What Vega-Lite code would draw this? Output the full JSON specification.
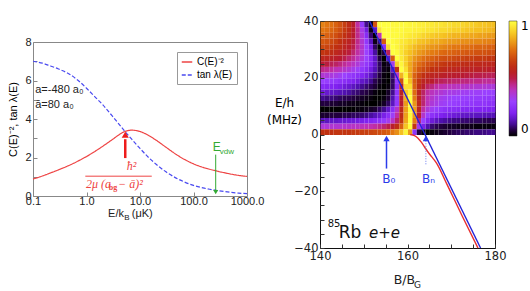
{
"$schema":"https://vega.github.io/schema/vega-lite/v6.json",
"padding":{"left":7,"top":14,"right":0,"bottom":0},
"background":"white",
"spacing":0,
"config":{"view":{"stroke":null},"axis":{"grid":false,"domain":false,"labelFont":"Liberation Sans","titleFont":"Liberation Sans","titleFontWeight":"normal"},"text":{"font":"Liberation Sans"}},
"resolve":{"scale":{"color":"independent","strokeDash":"independent","x":"independent","y":"independent"},"legend":{"color":"independent","strokeDash":"independent"}},
"hconcat":[
{"vconcat":[
{"width":214,"height":1,"data":{"values":[{}]},"mark":{"type":"text"},"encoding":{}},
{
"width":214,"height":154,
"view":{"stroke":"#888888","strokeWidth":1},
"encoding":{
"x":{"field":"E","type":"quantitative","scale":{"type":"log","domain":[0.1,1000]},"axis":{"values":[0.1,1,10,100,1000],"format":".1f","title":null,"tickSize":-4,"labelPadding":3,"tickColor":"#888888","labelFontSize":11,"labelColor":"#222222","labelFlush":false}},
"y":{"field":"v","type":"quantitative","scale":{"domain":[0,8]},"axis":{"values":[0,1,2,3,4,5,6,7,8],"labelExpr":"datum.value % 2 == 0 ? datum.label : ''","title":"C(E)⁻², tan λ(E)","titleFontSize":11,"titlePadding":6,"tickSize":-4,"labelPadding":6,"tickColor":"#888888","labelFontSize":11,"labelColor":"#222222"}}
},
"layer":[
{"data":{"values":[
{"E":0.1,"v":0.88,"s":"C(E)⁻²"},{"E":0.15,"v":1.04,"s":"C(E)⁻²"},{"E":0.2,"v":1.17,"s":"C(E)⁻²"},{"E":0.3,"v":1.36,"s":"C(E)⁻²"},{"E":0.5,"v":1.62,"s":"C(E)⁻²"},{"E":0.7,"v":1.82,"s":"C(E)⁻²"},{"E":1,"v":2.05,"s":"C(E)⁻²"},{"E":1.5,"v":2.35,"s":"C(E)⁻²"},{"E":2,"v":2.58,"s":"C(E)⁻²"},{"E":3,"v":2.92,"s":"C(E)⁻²"},{"E":4,"v":3.17,"s":"C(E)⁻²"},{"E":5,"v":3.33,"s":"C(E)⁻²"},{"E":6,"v":3.4,"s":"C(E)⁻²"},{"E":7,"v":3.42,"s":"C(E)⁻²"},{"E":8,"v":3.41,"s":"C(E)⁻²"},{"E":10,"v":3.35,"s":"C(E)⁻²"},{"E":15,"v":3.12,"s":"C(E)⁻²"},{"E":20,"v":2.9,"s":"C(E)⁻²"},{"E":30,"v":2.55,"s":"C(E)⁻²"},{"E":50,"v":2.12,"s":"C(E)⁻²"},{"E":70,"v":1.88,"s":"C(E)⁻²"},{"E":100,"v":1.67,"s":"C(E)⁻²"},{"E":150,"v":1.49,"s":"C(E)⁻²"},{"E":200,"v":1.39,"s":"C(E)⁻²"},{"E":300,"v":1.27,"s":"C(E)⁻²"},{"E":500,"v":1.14,"s":"C(E)⁻²"},{"E":700,"v":1.07,"s":"C(E)⁻²"},{"E":1000,"v":1.02,"s":"C(E)⁻²"},
{"E":0.1,"v":7.0,"s":"tan λ(E)"},{"E":0.15,"v":6.9,"s":"tan λ(E)"},{"E":0.2,"v":6.78,"s":"tan λ(E)"},{"E":0.3,"v":6.6,"s":"tan λ(E)"},{"E":0.5,"v":6.3,"s":"tan λ(E)"},{"E":0.7,"v":6.0,"s":"tan λ(E)"},{"E":1,"v":5.6,"s":"tan λ(E)"},{"E":1.5,"v":5.1,"s":"tan λ(E)"},{"E":2,"v":4.75,"s":"tan λ(E)"},{"E":3,"v":4.17,"s":"tan λ(E)"},{"E":4,"v":3.75,"s":"tan λ(E)"},{"E":5,"v":3.42,"s":"tan λ(E)"},{"E":6,"v":3.16,"s":"tan λ(E)"},{"E":7,"v":2.95,"s":"tan λ(E)"},{"E":10,"v":2.47,"s":"tan λ(E)"},{"E":15,"v":1.96,"s":"tan λ(E)"},{"E":20,"v":1.65,"s":"tan λ(E)"},{"E":30,"v":1.27,"s":"tan λ(E)"},{"E":50,"v":0.9,"s":"tan λ(E)"},{"E":70,"v":0.71,"s":"tan λ(E)"},{"E":100,"v":0.55,"s":"tan λ(E)"},{"E":150,"v":0.42,"s":"tan λ(E)"},{"E":200,"v":0.35,"s":"tan λ(E)"},{"E":300,"v":0.27,"s":"tan λ(E)"},{"E":500,"v":0.19,"s":"tan λ(E)"},{"E":700,"v":0.15,"s":"tan λ(E)"},{"E":1000,"v":0.12,"s":"tan λ(E)"}
]},
"mark":{"type":"line","interpolate":"monotone","strokeWidth":1.2},
"encoding":{
"color":{"field":"s","type":"nominal","scale":{"domain":["C(E)⁻²","tan λ(E)"],"range":["#ee4444","#4a4af0"]},"legend":{"title":null,"orient":"top-right","offset":10,"padding":4,"strokeColor":"#999999","fillColor":"white","symbolType":"stroke","symbolSize":110,"symbolStrokeWidth":1.3,"labelFontSize":10,"rowPadding":2,"labelOffset":4}},
"strokeDash":{"field":"s","type":"nominal","scale":{"domain":["C(E)⁻²","tan λ(E)"],"range":[[1,0],[4,2]]},"legend":{"title":null,"orient":"top-right","offset":10,"padding":4,"strokeColor":"#999999","fillColor":"white","symbolType":"stroke","symbolSize":110,"symbolStrokeWidth":1.3,"labelFontSize":10,"rowPadding":2,"labelOffset":4}}
}},
{"data":{"values":[{"E":0.11,"v":5.5,"t":"a=-480 a₀"},{"E":0.11,"v":4.72,"t":"ā=80 a₀"}]},
"mark":{"type":"text","align":"left","baseline":"middle","fontSize":11,"color":"#222222"},
"encoding":{"text":{"field":"t"}}},
{"data":{"values":[{"E":5.3,"v":1.97,"v2":2.95}]},
"mark":{"type":"rule","color":"#ee1c1c","strokeWidth":2.5},
"encoding":{"y2":{"field":"v2"}}},
{"data":{"values":[{"E":5.3,"v":3.18}]},
"mark":{"type":"point","shape":"triangle-up","filled":true,"size":50,"color":"#ee1c1c","opacity":1},
"encoding":{}},
{"data":{"values":[{"E":0.95,"E2":16.6,"v":1.03}]},
"mark":{"type":"rule","color":"#ee4444","strokeWidth":1},
"encoding":{"x2":{"field":"E2"}}},
{"data":{"values":[{"E":5.64,"v":1.56,"t":"ħ²"},{"E":0.98,"v":0.6,"t":"2μ (a"}]},
"mark":{"type":"text","align":"left","baseline":"middle","fontSize":12,"font":"Liberation Serif","fontStyle":"italic","color":"#ee4444"},
"encoding":{"text":{"field":"t"}}},
{"data":{"values":[{"E":3.9,"v":0.6,"t":" − ā)²"}]},
"mark":{"type":"text","align":"left","baseline":"middle","fontSize":12,"font":"Liberation Serif","fontStyle":"italic","color":"#ee4444"},
"encoding":{"text":{"field":"t"}}},
{"data":{"values":[{"E":2.6,"v":0.4,"t":"bg"}]},
"mark":{"type":"text","align":"left","baseline":"middle","fontSize":8,"font":"Liberation Serif","fontWeight":"bold","color":"#ee4444"},
"encoding":{"text":{"field":"t"}}},
{"data":{"values":[{"E":260,"v":2.15,"v2":0.3}]},
"mark":{"type":"rule","color":"#33aa33","strokeWidth":1},
"encoding":{"y2":{"field":"v2"}}},
{"data":{"values":[{"E":260,"v":0.2}]},
"mark":{"type":"point","shape":"triangle-down","filled":true,"size":25,"color":"#33aa33","opacity":1},
"encoding":{}},
{"data":{"values":[{"E":272,"v":2.55,"t":"E"}]},
"mark":{"type":"text","align":"center","baseline":"middle","fontSize":12,"color":"#33aa33"},
"encoding":{"text":{"field":"t"}}},
{"data":{"values":[{"E":420,"v":2.28,"t":"vdw"}]},
"mark":{"type":"text","align":"center","baseline":"middle","fontSize":8,"color":"#33aa33"},
"encoding":{"text":{"field":"t"}}},
{"data":{"values":[{"E":5.02,"v":-0.92,"t":"E/k"}]},
"mark":{"type":"text","align":"right","baseline":"middle","fontSize":11,"color":"#222222"},
"encoding":{"text":{"field":"t"}}},
{"data":{"values":[{"E":5.1,"v":-1.12,"t":"B"}]},
"mark":{"type":"text","align":"left","baseline":"middle","fontSize":8,"color":"#222222"},
"encoding":{"text":{"field":"t"}}},
{"data":{"values":[{"E":7.0,"v":-0.92,"t":"(μK)"}]},
"mark":{"type":"text","align":"left","baseline":"middle","fontSize":11,"color":"#222222"},
"encoding":{"text":{"field":"t"}}}
]
}],"spacing":8,
"resolve":{"scale":{"color":"independent","strokeDash":"independent"},"legend":{"color":"independent","strokeDash":"independent"}}},
{
"width":175,"height":227,
"view":{"stroke":"#111111","strokeWidth":1},
"encoding":{
"x":{"field":"b","type":"quantitative","scale":{"domain":[140,180],"nice":false,"zero":false},"axis":{"values":[140,145,150,155,160,165,170,175,180],"labelExpr":"datum.value % 20 == 0 ? datum.label : ''","title":null,"tickSize":-4,"labelPadding":6,"tickColor":"#333333","labelFontSize":11.5,"labelFont":"DejaVu Sans","labelColor":"#222222","labelFlush":false}},
"y":{"field":"e","type":"quantitative","scale":{"domain":[-40,40],"nice":false,"zero":false},"axis":{"values":[-40,-35,-30,-25,-20,-15,-10,-5,0,5,10,15,20,25,30,35,40],"labelExpr":"datum.value % 20 == 0 ? datum.label : ''","title":["E/h","(MHz)"],"titleAngle":0,"titleAlign":"center","titleBaseline":"middle","titleX":-36,"titleY":81,"titleFontSize":12,"titleFont":"DejaVu Sans","titleLineHeight":17,"tickSize":-4,"labelPadding":6,"tickColor":"#333333","labelFontSize":11.5,"labelFont":"DejaVu Sans","labelColor":"#222222","labelFlush":false}}
},
"layer":[
{"data":{"values":[
{"b":140,"e":38,"v":0.78},{"b":141,"e":38,"v":0.76},{"b":142,"e":38,"v":0.75},{"b":143,"e":38,"v":0.72},{"b":144,"e":38,"v":0.69},{"b":145,"e":38,"v":0.65},{"b":146,"e":38,"v":0.6},{"b":147,"e":38,"v":0.53},{"b":148,"e":38,"v":0.43},{"b":149,"e":38,"v":0.28},{"b":150,"e":38,"v":0.1},{"b":151,"e":38,"v":0.02},{"b":152,"e":38,"v":0.69},{"b":153,"e":38,"v":1.0},{"b":154,"e":38,"v":1.0},{"b":155,"e":38,"v":1.0},{"b":156,"e":38,"v":0.99},{"b":157,"e":38,"v":0.99},{"b":158,"e":38,"v":0.99},{"b":159,"e":38,"v":0.99},{"b":160,"e":38,"v":0.98},{"b":161,"e":38,"v":0.98},{"b":162,"e":38,"v":0.97},{"b":163,"e":38,"v":0.97},{"b":164,"e":38,"v":0.96},{"b":165,"e":38,"v":0.96},{"b":166,"e":38,"v":0.95},{"b":167,"e":38,"v":0.95},{"b":168,"e":38,"v":0.94},{"b":169,"e":38,"v":0.94},{"b":170,"e":38,"v":0.93},{"b":171,"e":38,"v":0.93},{"b":172,"e":38,"v":0.92},{"b":173,"e":38,"v":0.91},{"b":174,"e":38,"v":0.91},{"b":175,"e":38,"v":0.9},{"b":176,"e":38,"v":0.89},{"b":177,"e":38,"v":0.89},{"b":178,"e":38,"v":0.88},{"b":179,"e":38,"v":0.88},
{"b":140,"e":36,"v":0.76},{"b":141,"e":36,"v":0.75},{"b":142,"e":36,"v":0.73},{"b":143,"e":36,"v":0.71},{"b":144,"e":36,"v":0.68},{"b":145,"e":36,"v":0.64},{"b":146,"e":36,"v":0.6},{"b":147,"e":36,"v":0.53},{"b":148,"e":36,"v":0.45},{"b":149,"e":36,"v":0.34},{"b":150,"e":36,"v":0.18},{"b":151,"e":36,"v":0.02},{"b":152,"e":36,"v":0.15},{"b":153,"e":36,"v":0.95},{"b":154,"e":36,"v":1.0},{"b":155,"e":36,"v":1.0},{"b":156,"e":36,"v":0.99},{"b":157,"e":36,"v":0.99},{"b":158,"e":36,"v":0.99},{"b":159,"e":36,"v":0.98},{"b":160,"e":36,"v":0.98},{"b":161,"e":36,"v":0.97},{"b":162,"e":36,"v":0.97},{"b":163,"e":36,"v":0.96},{"b":164,"e":36,"v":0.95},{"b":165,"e":36,"v":0.95},{"b":166,"e":36,"v":0.94},{"b":167,"e":36,"v":0.93},{"b":168,"e":36,"v":0.93},{"b":169,"e":36,"v":0.92},{"b":170,"e":36,"v":0.91},{"b":171,"e":36,"v":0.91},{"b":172,"e":36,"v":0.9},{"b":173,"e":36,"v":0.89},{"b":174,"e":36,"v":0.89},{"b":175,"e":36,"v":0.88},{"b":176,"e":36,"v":0.88},{"b":177,"e":36,"v":0.87},{"b":178,"e":36,"v":0.87},{"b":179,"e":36,"v":0.86},
{"b":140,"e":34,"v":0.73},{"b":141,"e":34,"v":0.72},{"b":142,"e":34,"v":0.7},{"b":143,"e":34,"v":0.68},{"b":144,"e":34,"v":0.65},{"b":145,"e":34,"v":0.62},{"b":146,"e":34,"v":0.58},{"b":147,"e":34,"v":0.52},{"b":148,"e":34,"v":0.45},{"b":149,"e":34,"v":0.36},{"b":150,"e":34,"v":0.23},{"b":151,"e":34,"v":0.08},{"b":152,"e":34,"v":0.0},{"b":153,"e":34,"v":0.41},{"b":154,"e":34,"v":1.0},{"b":155,"e":34,"v":1.0},{"b":156,"e":34,"v":0.99},{"b":157,"e":34,"v":0.99},{"b":158,"e":34,"v":0.98},{"b":159,"e":34,"v":0.97},{"b":160,"e":34,"v":0.96},{"b":161,"e":34,"v":0.95},{"b":162,"e":34,"v":0.94},{"b":163,"e":34,"v":0.92},{"b":164,"e":34,"v":0.91},{"b":165,"e":34,"v":0.9},{"b":166,"e":34,"v":0.89},{"b":167,"e":34,"v":0.89},{"b":168,"e":34,"v":0.88},{"b":169,"e":34,"v":0.87},{"b":170,"e":34,"v":0.86},{"b":171,"e":34,"v":0.86},{"b":172,"e":34,"v":0.85},{"b":173,"e":34,"v":0.85},{"b":174,"e":34,"v":0.84},{"b":175,"e":34,"v":0.84},{"b":176,"e":34,"v":0.83},{"b":177,"e":34,"v":0.83},{"b":178,"e":34,"v":0.82},{"b":179,"e":34,"v":0.82},
{"b":140,"e":32,"v":0.7},{"b":141,"e":32,"v":0.69},{"b":142,"e":32,"v":0.67},{"b":143,"e":32,"v":0.65},{"b":144,"e":32,"v":0.62},{"b":145,"e":32,"v":0.59},{"b":146,"e":32,"v":0.56},{"b":147,"e":32,"v":0.51},{"b":148,"e":32,"v":0.45},{"b":149,"e":32,"v":0.37},{"b":150,"e":32,"v":0.27},{"b":151,"e":32,"v":0.14},{"b":152,"e":32,"v":0.02},{"b":153,"e":32,"v":0.08},{"b":154,"e":32,"v":0.71},{"b":155,"e":32,"v":1.0},{"b":156,"e":32,"v":0.99},{"b":157,"e":32,"v":0.98},{"b":158,"e":32,"v":0.96},{"b":159,"e":32,"v":0.95},{"b":160,"e":32,"v":0.93},{"b":161,"e":32,"v":0.92},{"b":162,"e":32,"v":0.89},{"b":163,"e":32,"v":0.88},{"b":164,"e":32,"v":0.87},{"b":165,"e":32,"v":0.85},{"b":166,"e":32,"v":0.85},{"b":167,"e":32,"v":0.84},{"b":168,"e":32,"v":0.83},{"b":169,"e":32,"v":0.82},{"b":170,"e":32,"v":0.82},{"b":171,"e":32,"v":0.81},{"b":172,"e":32,"v":0.8},{"b":173,"e":32,"v":0.8},{"b":174,"e":32,"v":0.79},{"b":175,"e":32,"v":0.79},{"b":176,"e":32,"v":0.79},{"b":177,"e":32,"v":0.78},{"b":178,"e":32,"v":0.78},{"b":179,"e":32,"v":0.77},
{"b":140,"e":30,"v":0.67},{"b":141,"e":30,"v":0.66},{"b":142,"e":30,"v":0.64},{"b":143,"e":30,"v":0.62},{"b":144,"e":30,"v":0.6},{"b":145,"e":30,"v":0.57},{"b":146,"e":30,"v":0.54},{"b":147,"e":30,"v":0.5},{"b":148,"e":30,"v":0.44},{"b":149,"e":30,"v":0.38},{"b":150,"e":30,"v":0.3},{"b":151,"e":30,"v":0.19},{"b":152,"e":30,"v":0.07},{"b":153,"e":30,"v":0.0},{"b":154,"e":30,"v":0.25},{"b":155,"e":30,"v":0.93},{"b":156,"e":30,"v":1.0},{"b":157,"e":30,"v":0.98},{"b":158,"e":30,"v":0.95},{"b":159,"e":30,"v":0.93},{"b":160,"e":30,"v":0.9},{"b":161,"e":30,"v":0.87},{"b":162,"e":30,"v":0.85},{"b":163,"e":30,"v":0.84},{"b":164,"e":30,"v":0.82},{"b":165,"e":30,"v":0.81},{"b":166,"e":30,"v":0.8},{"b":167,"e":30,"v":0.79},{"b":168,"e":30,"v":0.78},{"b":169,"e":30,"v":0.77},{"b":170,"e":30,"v":0.76},{"b":171,"e":30,"v":0.76},{"b":172,"e":30,"v":0.75},{"b":173,"e":30,"v":0.75},{"b":174,"e":30,"v":0.74},{"b":175,"e":30,"v":0.73},{"b":176,"e":30,"v":0.73},{"b":177,"e":30,"v":0.73},{"b":178,"e":30,"v":0.72},{"b":179,"e":30,"v":0.72},
{"b":140,"e":28,"v":0.63},{"b":141,"e":28,"v":0.62},{"b":142,"e":28,"v":0.6},{"b":143,"e":28,"v":0.58},{"b":144,"e":28,"v":0.56},{"b":145,"e":28,"v":0.54},{"b":146,"e":28,"v":0.51},{"b":147,"e":28,"v":0.47},{"b":148,"e":28,"v":0.43},{"b":149,"e":28,"v":0.37},{"b":150,"e":28,"v":0.3},{"b":151,"e":28,"v":0.21},{"b":152,"e":28,"v":0.11},{"b":153,"e":28,"v":0.01},{"b":154,"e":28,"v":0.05},{"b":155,"e":28,"v":0.49},{"b":156,"e":28,"v":1.0},{"b":157,"e":28,"v":0.99},{"b":158,"e":28,"v":0.95},{"b":159,"e":28,"v":0.91},{"b":160,"e":28,"v":0.88},{"b":161,"e":28,"v":0.85},{"b":162,"e":28,"v":0.82},{"b":163,"e":28,"v":0.8},{"b":164,"e":28,"v":0.78},{"b":165,"e":28,"v":0.77},{"b":166,"e":28,"v":0.76},{"b":167,"e":28,"v":0.74},{"b":168,"e":28,"v":0.73},{"b":169,"e":28,"v":0.73},{"b":170,"e":28,"v":0.72},{"b":171,"e":28,"v":0.71},{"b":172,"e":28,"v":0.71},{"b":173,"e":28,"v":0.7},{"b":174,"e":28,"v":0.7},{"b":175,"e":28,"v":0.69},{"b":176,"e":28,"v":0.69},{"b":177,"e":28,"v":0.69},{"b":178,"e":28,"v":0.68},{"b":179,"e":28,"v":0.68},
{"b":140,"e":26,"v":0.58},{"b":141,"e":26,"v":0.57},{"b":142,"e":26,"v":0.55},{"b":143,"e":26,"v":0.54},{"b":144,"e":26,"v":0.52},{"b":145,"e":26,"v":0.5},{"b":146,"e":26,"v":0.47},{"b":147,"e":26,"v":0.44},{"b":148,"e":26,"v":0.4},{"b":149,"e":26,"v":0.35},{"b":150,"e":26,"v":0.3},{"b":151,"e":26,"v":0.23},{"b":152,"e":26,"v":0.15},{"b":153,"e":26,"v":0.05},{"b":154,"e":26,"v":0.0},{"b":155,"e":26,"v":0.14},{"b":156,"e":26,"v":0.71},{"b":157,"e":26,"v":1.0},{"b":158,"e":26,"v":0.96},{"b":159,"e":26,"v":0.91},{"b":160,"e":26,"v":0.86},{"b":161,"e":26,"v":0.81},{"b":162,"e":26,"v":0.78},{"b":163,"e":26,"v":0.75},{"b":164,"e":26,"v":0.73},{"b":165,"e":26,"v":0.72},{"b":166,"e":26,"v":0.7},{"b":167,"e":26,"v":0.69},{"b":168,"e":26,"v":0.68},{"b":169,"e":26,"v":0.68},{"b":170,"e":26,"v":0.67},{"b":171,"e":26,"v":0.66},{"b":172,"e":26,"v":0.66},{"b":173,"e":26,"v":0.65},{"b":174,"e":26,"v":0.65},{"b":175,"e":26,"v":0.64},{"b":176,"e":26,"v":0.64},{"b":177,"e":26,"v":0.64},{"b":178,"e":26,"v":0.63},{"b":179,"e":26,"v":0.63},
{"b":140,"e":24,"v":0.52},{"b":141,"e":24,"v":0.51},{"b":142,"e":24,"v":0.49},{"b":143,"e":24,"v":0.48},{"b":144,"e":24,"v":0.46},{"b":145,"e":24,"v":0.44},{"b":146,"e":24,"v":0.42},{"b":147,"e":24,"v":0.39},{"b":148,"e":24,"v":0.36},{"b":149,"e":24,"v":0.32},{"b":150,"e":24,"v":0.27},{"b":151,"e":24,"v":0.22},{"b":152,"e":24,"v":0.15},{"b":153,"e":24,"v":0.07},{"b":154,"e":24,"v":0.01},{"b":155,"e":24,"v":0.03},{"b":156,"e":24,"v":0.33},{"b":157,"e":24,"v":0.91},{"b":158,"e":24,"v":0.98},{"b":159,"e":24,"v":0.91},{"b":160,"e":24,"v":0.84},{"b":161,"e":24,"v":0.78},{"b":162,"e":24,"v":0.74},{"b":163,"e":24,"v":0.71},{"b":164,"e":24,"v":0.68},{"b":165,"e":24,"v":0.67},{"b":166,"e":24,"v":0.65},{"b":167,"e":24,"v":0.64},{"b":168,"e":24,"v":0.63},{"b":169,"e":24,"v":0.62},{"b":170,"e":24,"v":0.62},{"b":171,"e":24,"v":0.61},{"b":172,"e":24,"v":0.6},{"b":173,"e":24,"v":0.6},{"b":174,"e":24,"v":0.59},{"b":175,"e":24,"v":0.59},{"b":176,"e":24,"v":0.59},{"b":177,"e":24,"v":0.58},{"b":178,"e":24,"v":0.58},{"b":179,"e":24,"v":0.58},
{"b":140,"e":22,"v":0.45},{"b":141,"e":22,"v":0.44},{"b":142,"e":22,"v":0.43},{"b":143,"e":22,"v":0.41},{"b":144,"e":22,"v":0.4},{"b":145,"e":22,"v":0.38},{"b":146,"e":22,"v":0.36},{"b":147,"e":22,"v":0.33},{"b":148,"e":22,"v":0.31},{"b":149,"e":22,"v":0.27},{"b":150,"e":22,"v":0.23},{"b":151,"e":22,"v":0.18},{"b":152,"e":22,"v":0.13},{"b":153,"e":22,"v":0.07},{"b":154,"e":22,"v":0.02},{"b":155,"e":22,"v":0.01},{"b":156,"e":22,"v":0.15},{"b":157,"e":22,"v":0.61},{"b":158,"e":22,"v":1.0},{"b":159,"e":22,"v":0.94},{"b":160,"e":22,"v":0.84},{"b":161,"e":22,"v":0.76},{"b":162,"e":22,"v":0.7},{"b":163,"e":22,"v":0.67},{"b":164,"e":22,"v":0.65},{"b":165,"e":22,"v":0.62},{"b":166,"e":22,"v":0.61},{"b":167,"e":22,"v":0.6},{"b":168,"e":22,"v":0.59},{"b":169,"e":22,"v":0.58},{"b":170,"e":22,"v":0.58},{"b":171,"e":22,"v":0.57},{"b":172,"e":22,"v":0.56},{"b":173,"e":22,"v":0.56},{"b":174,"e":22,"v":0.56},{"b":175,"e":22,"v":0.55},{"b":176,"e":22,"v":0.55},{"b":177,"e":22,"v":0.55},{"b":178,"e":22,"v":0.54},{"b":179,"e":22,"v":0.54},
{"b":140,"e":20,"v":0.37},{"b":141,"e":20,"v":0.36},{"b":142,"e":20,"v":0.35},{"b":143,"e":20,"v":0.34},{"b":144,"e":20,"v":0.32},{"b":145,"e":20,"v":0.3},{"b":146,"e":20,"v":0.28},{"b":147,"e":20,"v":0.26},{"b":148,"e":20,"v":0.24},{"b":149,"e":20,"v":0.21},{"b":150,"e":20,"v":0.18},{"b":151,"e":20,"v":0.14},{"b":152,"e":20,"v":0.1},{"b":153,"e":20,"v":0.05},{"b":154,"e":20,"v":0.01},{"b":155,"e":20,"v":0.0},{"b":156,"e":20,"v":0.09},{"b":157,"e":20,"v":0.38},{"b":158,"e":20,"v":0.86},{"b":159,"e":20,"v":0.98},{"b":160,"e":20,"v":0.84},{"b":161,"e":20,"v":0.72},{"b":162,"e":20,"v":0.66},{"b":163,"e":20,"v":0.62},{"b":164,"e":20,"v":0.59},{"b":165,"e":20,"v":0.57},{"b":166,"e":20,"v":0.56},{"b":167,"e":20,"v":0.55},{"b":168,"e":20,"v":0.54},{"b":169,"e":20,"v":0.53},{"b":170,"e":20,"v":0.53},{"b":171,"e":20,"v":0.52},{"b":172,"e":20,"v":0.52},{"b":173,"e":20,"v":0.51},{"b":174,"e":20,"v":0.51},{"b":175,"e":20,"v":0.5},{"b":176,"e":20,"v":0.5},{"b":177,"e":20,"v":0.5},{"b":178,"e":20,"v":0.49},{"b":179,"e":20,"v":0.49},
{"b":140,"e":18,"v":0.3},{"b":141,"e":18,"v":0.29},{"b":142,"e":18,"v":0.28},{"b":143,"e":18,"v":0.27},{"b":144,"e":18,"v":0.25},{"b":145,"e":18,"v":0.24},{"b":146,"e":18,"v":0.22},{"b":147,"e":18,"v":0.2},{"b":148,"e":18,"v":0.18},{"b":149,"e":18,"v":0.15},{"b":150,"e":18,"v":0.13},{"b":151,"e":18,"v":0.1},{"b":152,"e":18,"v":0.06},{"b":153,"e":18,"v":0.03},{"b":154,"e":18,"v":0.01},{"b":155,"e":18,"v":0.0},{"b":156,"e":18,"v":0.07},{"b":157,"e":18,"v":0.27},{"b":158,"e":18,"v":0.69},{"b":159,"e":18,"v":1.0},{"b":160,"e":18,"v":0.88},{"b":161,"e":18,"v":0.71},{"b":162,"e":18,"v":0.63},{"b":163,"e":18,"v":0.57},{"b":164,"e":18,"v":0.55},{"b":165,"e":18,"v":0.53},{"b":166,"e":18,"v":0.5},{"b":167,"e":18,"v":0.49},{"b":168,"e":18,"v":0.48},{"b":169,"e":18,"v":0.48},{"b":170,"e":18,"v":0.47},{"b":171,"e":18,"v":0.47},{"b":172,"e":18,"v":0.46},{"b":173,"e":18,"v":0.46},{"b":174,"e":18,"v":0.45},{"b":175,"e":18,"v":0.45},{"b":176,"e":18,"v":0.45},{"b":177,"e":18,"v":0.44},{"b":178,"e":18,"v":0.44},{"b":179,"e":18,"v":0.44},
{"b":140,"e":16,"v":0.23},{"b":141,"e":16,"v":0.22},{"b":142,"e":16,"v":0.21},{"b":143,"e":16,"v":0.2},{"b":144,"e":16,"v":0.19},{"b":145,"e":16,"v":0.17},{"b":146,"e":16,"v":0.16},{"b":147,"e":16,"v":0.14},{"b":148,"e":16,"v":0.12},{"b":149,"e":16,"v":0.1},{"b":150,"e":16,"v":0.08},{"b":151,"e":16,"v":0.06},{"b":152,"e":16,"v":0.04},{"b":153,"e":16,"v":0.01},{"b":154,"e":16,"v":0.0},{"b":155,"e":16,"v":0.01},{"b":156,"e":16,"v":0.07},{"b":157,"e":16,"v":0.24},{"b":158,"e":16,"v":0.57},{"b":159,"e":16,"v":0.94},{"b":160,"e":16,"v":0.94},{"b":161,"e":16,"v":0.72},{"b":162,"e":16,"v":0.6},{"b":163,"e":16,"v":0.53},{"b":164,"e":16,"v":0.48},{"b":165,"e":16,"v":0.46},{"b":166,"e":16,"v":0.43},{"b":167,"e":16,"v":0.42},{"b":168,"e":16,"v":0.41},{"b":169,"e":16,"v":0.4},{"b":170,"e":16,"v":0.4},{"b":171,"e":16,"v":0.39},{"b":172,"e":16,"v":0.39},{"b":173,"e":16,"v":0.38},{"b":174,"e":16,"v":0.38},{"b":175,"e":16,"v":0.37},{"b":176,"e":16,"v":0.37},{"b":177,"e":16,"v":0.37},{"b":178,"e":16,"v":0.36},{"b":179,"e":16,"v":0.36},
{"b":140,"e":14,"v":0.17},{"b":141,"e":14,"v":0.16},{"b":142,"e":14,"v":0.15},{"b":143,"e":14,"v":0.14},{"b":144,"e":14,"v":0.13},{"b":145,"e":14,"v":0.12},{"b":146,"e":14,"v":0.11},{"b":147,"e":14,"v":0.09},{"b":148,"e":14,"v":0.08},{"b":149,"e":14,"v":0.06},{"b":150,"e":14,"v":0.05},{"b":151,"e":14,"v":0.03},{"b":152,"e":14,"v":0.01},{"b":153,"e":14,"v":0.0},{"b":154,"e":14,"v":0.0},{"b":155,"e":14,"v":0.03},{"b":156,"e":14,"v":0.1},{"b":157,"e":14,"v":0.27},{"b":158,"e":14,"v":0.56},{"b":159,"e":14,"v":0.9},{"b":160,"e":14,"v":0.97},{"b":161,"e":14,"v":0.74},{"b":162,"e":14,"v":0.57},{"b":163,"e":14,"v":0.48},{"b":164,"e":14,"v":0.43},{"b":165,"e":14,"v":0.4},{"b":166,"e":14,"v":0.38},{"b":167,"e":14,"v":0.37},{"b":168,"e":14,"v":0.35},{"b":169,"e":14,"v":0.34},{"b":170,"e":14,"v":0.34},{"b":171,"e":14,"v":0.33},{"b":172,"e":14,"v":0.32},{"b":173,"e":14,"v":0.32},{"b":174,"e":14,"v":0.31},{"b":175,"e":14,"v":0.31},{"b":176,"e":14,"v":0.31},{"b":177,"e":14,"v":0.3},{"b":178,"e":14,"v":0.3},{"b":179,"e":14,"v":0.3},
{"b":140,"e":12,"v":0.1},{"b":141,"e":12,"v":0.09},{"b":142,"e":12,"v":0.09},{"b":143,"e":12,"v":0.08},{"b":144,"e":12,"v":0.07},{"b":145,"e":12,"v":0.06},{"b":146,"e":12,"v":0.06},{"b":147,"e":12,"v":0.05},{"b":148,"e":12,"v":0.04},{"b":149,"e":12,"v":0.03},{"b":150,"e":12,"v":0.02},{"b":151,"e":12,"v":0.01},{"b":152,"e":12,"v":0.0},{"b":153,"e":12,"v":0.0},{"b":154,"e":12,"v":0.01},{"b":155,"e":12,"v":0.04},{"b":156,"e":12,"v":0.12},{"b":157,"e":12,"v":0.27},{"b":158,"e":12,"v":0.54},{"b":159,"e":12,"v":0.86},{"b":160,"e":12,"v":1.0},{"b":161,"e":12,"v":0.77},{"b":162,"e":12,"v":0.57},{"b":163,"e":12,"v":0.47},{"b":164,"e":12,"v":0.41},{"b":165,"e":12,"v":0.38},{"b":166,"e":12,"v":0.35},{"b":167,"e":12,"v":0.33},{"b":168,"e":12,"v":0.32},{"b":169,"e":12,"v":0.31},{"b":170,"e":12,"v":0.3},{"b":171,"e":12,"v":0.3},{"b":172,"e":12,"v":0.29},{"b":173,"e":12,"v":0.29},{"b":174,"e":12,"v":0.28},{"b":175,"e":12,"v":0.28},{"b":176,"e":12,"v":0.28},{"b":177,"e":12,"v":0.27},{"b":178,"e":12,"v":0.27},{"b":179,"e":12,"v":0.27},
{"b":140,"e":10,"v":0.05},{"b":141,"e":10,"v":0.05},{"b":142,"e":10,"v":0.04},{"b":143,"e":10,"v":0.04},{"b":144,"e":10,"v":0.03},{"b":145,"e":10,"v":0.03},{"b":146,"e":10,"v":0.02},{"b":147,"e":10,"v":0.02},{"b":148,"e":10,"v":0.01},{"b":149,"e":10,"v":0.01},{"b":150,"e":10,"v":0.0},{"b":151,"e":10,"v":0.0},{"b":152,"e":10,"v":0.0},{"b":153,"e":10,"v":0.01},{"b":154,"e":10,"v":0.03},{"b":155,"e":10,"v":0.07},{"b":156,"e":10,"v":0.14},{"b":157,"e":10,"v":0.28},{"b":158,"e":10,"v":0.52},{"b":159,"e":10,"v":0.82},{"b":160,"e":10,"v":1.0},{"b":161,"e":10,"v":0.81},{"b":162,"e":10,"v":0.59},{"b":163,"e":10,"v":0.47},{"b":164,"e":10,"v":0.4},{"b":165,"e":10,"v":0.36},{"b":166,"e":10,"v":0.34},{"b":167,"e":10,"v":0.32},{"b":168,"e":10,"v":0.31},{"b":169,"e":10,"v":0.3},{"b":170,"e":10,"v":0.29},{"b":171,"e":10,"v":0.28},{"b":172,"e":10,"v":0.28},{"b":173,"e":10,"v":0.27},{"b":174,"e":10,"v":0.27},{"b":175,"e":10,"v":0.26},{"b":176,"e":10,"v":0.26},{"b":177,"e":10,"v":0.26},{"b":178,"e":10,"v":0.25},{"b":179,"e":10,"v":0.25},
{"b":140,"e":8,"v":0.0},{"b":141,"e":8,"v":0.0},{"b":142,"e":8,"v":0.0},{"b":143,"e":8,"v":0.0},{"b":144,"e":8,"v":0.0},{"b":145,"e":8,"v":0.0},{"b":146,"e":8,"v":0.0},{"b":147,"e":8,"v":0.0},{"b":148,"e":8,"v":0.01},{"b":149,"e":8,"v":0.01},{"b":150,"e":8,"v":0.02},{"b":151,"e":8,"v":0.03},{"b":152,"e":8,"v":0.04},{"b":153,"e":8,"v":0.07},{"b":154,"e":8,"v":0.1},{"b":155,"e":8,"v":0.15},{"b":156,"e":8,"v":0.24},{"b":157,"e":8,"v":0.38},{"b":158,"e":8,"v":0.59},{"b":159,"e":8,"v":0.83},{"b":160,"e":8,"v":0.99},{"b":161,"e":8,"v":0.82},{"b":162,"e":8,"v":0.57},{"b":163,"e":8,"v":0.43},{"b":164,"e":8,"v":0.36},{"b":165,"e":8,"v":0.32},{"b":166,"e":8,"v":0.29},{"b":167,"e":8,"v":0.27},{"b":168,"e":8,"v":0.25},{"b":169,"e":8,"v":0.24},{"b":170,"e":8,"v":0.24},{"b":171,"e":8,"v":0.23},{"b":172,"e":8,"v":0.22},{"b":173,"e":8,"v":0.22},{"b":174,"e":8,"v":0.21},{"b":175,"e":8,"v":0.21},{"b":176,"e":8,"v":0.21},{"b":177,"e":8,"v":0.2},{"b":178,"e":8,"v":0.2},{"b":179,"e":8,"v":0.2},
{"b":140,"e":6,"v":0.04},{"b":141,"e":6,"v":0.04},{"b":142,"e":6,"v":0.05},{"b":143,"e":6,"v":0.05},{"b":144,"e":6,"v":0.05},{"b":145,"e":6,"v":0.06},{"b":146,"e":6,"v":0.06},{"b":147,"e":6,"v":0.07},{"b":148,"e":6,"v":0.07},{"b":149,"e":6,"v":0.08},{"b":150,"e":6,"v":0.09},{"b":151,"e":6,"v":0.11},{"b":152,"e":6,"v":0.13},{"b":153,"e":6,"v":0.15},{"b":154,"e":6,"v":0.19},{"b":155,"e":6,"v":0.24},{"b":156,"e":6,"v":0.31},{"b":157,"e":6,"v":0.43},{"b":158,"e":6,"v":0.6},{"b":159,"e":6,"v":0.83},{"b":160,"e":6,"v":0.99},{"b":161,"e":6,"v":0.82},{"b":162,"e":6,"v":0.53},{"b":163,"e":6,"v":0.38},{"b":164,"e":6,"v":0.3},{"b":165,"e":6,"v":0.25},{"b":166,"e":6,"v":0.22},{"b":167,"e":6,"v":0.2},{"b":168,"e":6,"v":0.19},{"b":169,"e":6,"v":0.18},{"b":170,"e":6,"v":0.17},{"b":171,"e":6,"v":0.16},{"b":172,"e":6,"v":0.15},{"b":173,"e":6,"v":0.15},{"b":174,"e":6,"v":0.14},{"b":175,"e":6,"v":0.14},{"b":176,"e":6,"v":0.14},{"b":177,"e":6,"v":0.13},{"b":178,"e":6,"v":0.13},{"b":179,"e":6,"v":0.13},
{"b":140,"e":4,"v":0.14},{"b":141,"e":4,"v":0.14},{"b":142,"e":4,"v":0.15},{"b":143,"e":4,"v":0.15},{"b":144,"e":4,"v":0.16},{"b":145,"e":4,"v":0.16},{"b":146,"e":4,"v":0.17},{"b":147,"e":4,"v":0.17},{"b":148,"e":4,"v":0.18},{"b":149,"e":4,"v":0.19},{"b":150,"e":4,"v":0.2},{"b":151,"e":4,"v":0.21},{"b":152,"e":4,"v":0.23},{"b":153,"e":4,"v":0.25},{"b":154,"e":4,"v":0.28},{"b":155,"e":4,"v":0.33},{"b":156,"e":4,"v":0.39},{"b":157,"e":4,"v":0.48},{"b":158,"e":4,"v":0.63},{"b":159,"e":4,"v":0.84},{"b":160,"e":4,"v":1.0},{"b":161,"e":4,"v":0.77},{"b":162,"e":4,"v":0.46},{"b":163,"e":4,"v":0.3},{"b":164,"e":4,"v":0.22},{"b":165,"e":4,"v":0.17},{"b":166,"e":4,"v":0.14},{"b":167,"e":4,"v":0.12},{"b":168,"e":4,"v":0.11},{"b":169,"e":4,"v":0.1},{"b":170,"e":4,"v":0.09},{"b":171,"e":4,"v":0.09},{"b":172,"e":4,"v":0.08},{"b":173,"e":4,"v":0.08},{"b":174,"e":4,"v":0.07},{"b":175,"e":4,"v":0.07},{"b":176,"e":4,"v":0.07},{"b":177,"e":4,"v":0.06},{"b":178,"e":4,"v":0.06},{"b":179,"e":4,"v":0.06},
{"b":140,"e":2,"v":0.36},{"b":141,"e":2,"v":0.36},{"b":142,"e":2,"v":0.37},{"b":143,"e":2,"v":0.37},{"b":144,"e":2,"v":0.37},{"b":145,"e":2,"v":0.38},{"b":146,"e":2,"v":0.38},{"b":147,"e":2,"v":0.39},{"b":148,"e":2,"v":0.39},{"b":149,"e":2,"v":0.4},{"b":150,"e":2,"v":0.41},{"b":151,"e":2,"v":0.42},{"b":152,"e":2,"v":0.43},{"b":153,"e":2,"v":0.45},{"b":154,"e":2,"v":0.47},{"b":155,"e":2,"v":0.5},{"b":156,"e":2,"v":0.54},{"b":157,"e":2,"v":0.61},{"b":158,"e":2,"v":0.72},{"b":159,"e":2,"v":0.89},{"b":160,"e":2,"v":1.0},{"b":161,"e":2,"v":0.63},{"b":162,"e":2,"v":0.33},{"b":163,"e":2,"v":0.19},{"b":164,"e":2,"v":0.12},{"b":165,"e":2,"v":0.08},{"b":166,"e":2,"v":0.06},{"b":167,"e":2,"v":0.05},{"b":168,"e":2,"v":0.04},{"b":169,"e":2,"v":0.03},{"b":170,"e":2,"v":0.03},{"b":171,"e":2,"v":0.02},{"b":172,"e":2,"v":0.02},{"b":173,"e":2,"v":0.02},{"b":174,"e":2,"v":0.02},{"b":175,"e":2,"v":0.01},{"b":176,"e":2,"v":0.01},{"b":177,"e":2,"v":0.01},{"b":178,"e":2,"v":0.01},{"b":179,"e":2,"v":0.01},
{"b":140,"e":0,"v":0.62},{"b":141,"e":0,"v":0.62},{"b":142,"e":0,"v":0.62},{"b":143,"e":0,"v":0.63},{"b":144,"e":0,"v":0.63},{"b":145,"e":0,"v":0.63},{"b":146,"e":0,"v":0.63},{"b":147,"e":0,"v":0.64},{"b":148,"e":0,"v":0.64},{"b":149,"e":0,"v":0.65},{"b":150,"e":0,"v":0.65},{"b":151,"e":0,"v":0.66},{"b":152,"e":0,"v":0.67},{"b":153,"e":0,"v":0.68},{"b":154,"e":0,"v":0.7},{"b":155,"e":0,"v":0.72},{"b":156,"e":0,"v":0.76},{"b":157,"e":0,"v":0.8},{"b":158,"e":0,"v":0.88},{"b":159,"e":0,"v":0.98},{"b":160,"e":0,"v":0.82},{"b":161,"e":0,"v":0.26},{"b":162,"e":0,"v":0.05},{"b":163,"e":0,"v":0.01},{"b":164,"e":0,"v":0.0},{"b":165,"e":0,"v":0.01},{"b":166,"e":0,"v":0.02},{"b":167,"e":0,"v":0.03},{"b":168,"e":0,"v":0.04},{"b":169,"e":0,"v":0.05},{"b":170,"e":0,"v":0.06},{"b":171,"e":0,"v":0.07},{"b":172,"e":0,"v":0.07},{"b":173,"e":0,"v":0.08},{"b":174,"e":0,"v":0.08},{"b":175,"e":0,"v":0.09},{"b":176,"e":0,"v":0.09},{"b":177,"e":0,"v":0.09},{"b":178,"e":0,"v":0.1},{"b":179,"e":0,"v":0.1}
]},
"mark":{"type":"rect"},
"encoding":{
"x":{"field":"b","type":"quantitative","bin":{"binned":true,"step":1},"scale":{"domain":[140,180],"nice":false,"zero":false},"axis":{"values":[140,145,150,155,160,165,170,175,180],"labelExpr":"datum.value % 20 == 0 ? datum.label : ''","title":null,"tickSize":-4,"labelPadding":6,"tickColor":"#333333","labelFontSize":11.5,"labelFont":"DejaVu Sans","labelColor":"#222222","labelFlush":false}},
"y":{"field":"e","type":"quantitative","bin":{"binned":true,"step":2},"scale":{"domain":[-40,40],"nice":false,"zero":false},"axis":{"values":[-40,-35,-30,-25,-20,-15,-10,-5,0,5,10,15,20,25,30,35,40],"labelExpr":"datum.value % 20 == 0 ? datum.label : ''","title":["E/h","(MHz)"],"titleAngle":0,"titleAlign":"center","titleBaseline":"middle","titleX":-36,"titleY":81,"titleFontSize":12,"titleFont":"DejaVu Sans","titleLineHeight":17,"tickSize":-4,"labelPadding":6,"tickColor":"#333333","labelFontSize":11.5,"labelFont":"DejaVu Sans","labelColor":"#222222","labelFlush":false}},
"color":{"field":"v","type":"quantitative","scale":{"domain":[0,0.05,0.12,0.2,0.3,0.42,0.52,0.62,0.75,0.88,1],"range":["#000000","#22003f","#5010b0","#8022f0","#9a40ff","#c030b0","#b81a30","#c03010","#e07010","#f5c020","#ffff40"],"interpolate":"rgb"},"legend":{"type":"gradient","title":null,"orient":"right","offset":14,"direction":"vertical","gradientLength":115,"gradientThickness":8,"labelExpr":"datum.value == 0 || datum.value == 1 ? datum.label : ''","format":"d","labelFontSize":12,"labelFont":"DejaVu Sans","labelBaseline":"middle","gradientStrokeColor":"#222222","gradientStrokeWidth":0.5,"labelOffset":4}}
}},
{"data":{"values":[{"b":151.3,"e":40},{"b":176.7,"e":-40}]},
"mark":{"type":"line","color":"#2222d8","strokeWidth":1.4},
"encoding":{}},
{"data":{"values":[{"b":160.6,"e":0},{"b":161.6,"e":-0.4},{"b":162.4,"e":-1.3},{"b":163.2,"e":-2.8},{"b":163.9,"e":-4.4},{"b":164.6,"e":-6.0},{"b":165.5,"e":-7.8},{"b":166.6,"e":-10},{"b":169,"e":-17.5},{"b":172.5,"e":-28.7},{"b":176.1,"e":-40}]},
"mark":{"type":"line","color":"#e83030","strokeWidth":1.4,"interpolate":"monotone"},
"encoding":{}},
{"data":{"values":[{"b":155.2,"e":-12,"e2":-2.2}]},
"mark":{"type":"rule","color":"#2b3bea","strokeWidth":1.5},
"encoding":{"y2":{"field":"e2"}}},
{"data":{"values":[{"b":164.2,"e":-10.5,"e2":-2.2}]},
"mark":{"type":"rule","color":"#6a7af0","strokeWidth":1,"strokeDash":[1,1.5]},
"encoding":{"y2":{"field":"e2"}}},
{"data":{"values":[{"b":155.2,"e":-1.4},{"b":164.2,"e":-1.4}]},
"mark":{"type":"point","shape":"triangle-up","filled":true,"size":40,"color":"#2b3bea","opacity":1},
"encoding":{}},
{"data":{"values":[{"b":155.7,"e":-15.6,"t":"B₀"},{"b":164.8,"e":-15.6,"t":"Bₙ"}]},
"mark":{"type":"text","align":"center","baseline":"middle","fontSize":12,"font":"DejaVu Sans","color":"#2b3bea"},
"encoding":{"text":{"field":"t"}}},
{"data":{"values":[{"b":143.2,"e":-31.4,"t":"85"}]},
"mark":{"type":"text","align":"center","baseline":"middle","fontSize":10,"font":"DejaVu Sans","color":"#111111"},
"encoding":{"text":{"field":"t"}}},
{"data":{"values":[{"b":144.3,"e":-36.4,"t":"Rb"}]},
"mark":{"type":"text","align":"left","baseline":"alphabetic","fontSize":17,"font":"DejaVu Sans","color":"#111111"},
"encoding":{"text":{"field":"t"}}},
{"data":{"values":[{"b":151.2,"e":-36.4,"t":"e+e"}]},
"mark":{"type":"text","align":"left","baseline":"alphabetic","fontSize":15,"font":"DejaVu Sans","fontStyle":"italic","color":"#111111"},
"encoding":{"text":{"field":"t"}}},
{"data":{"values":[{"b":159.3,"e":-51.3,"t":"B/B"}]},
"mark":{"type":"text","align":"center","baseline":"middle","fontSize":12.5,"font":"DejaVu Sans","color":"#222222"},
"encoding":{"text":{"field":"t"}}},
{"data":{"values":[{"b":162.3,"e":-53.2,"t":"G"}]},
"mark":{"type":"text","align":"center","baseline":"middle","fontSize":9,"font":"DejaVu Sans","color":"#222222"},
"encoding":{"text":{"field":"t"}}}
]
}
]
}
